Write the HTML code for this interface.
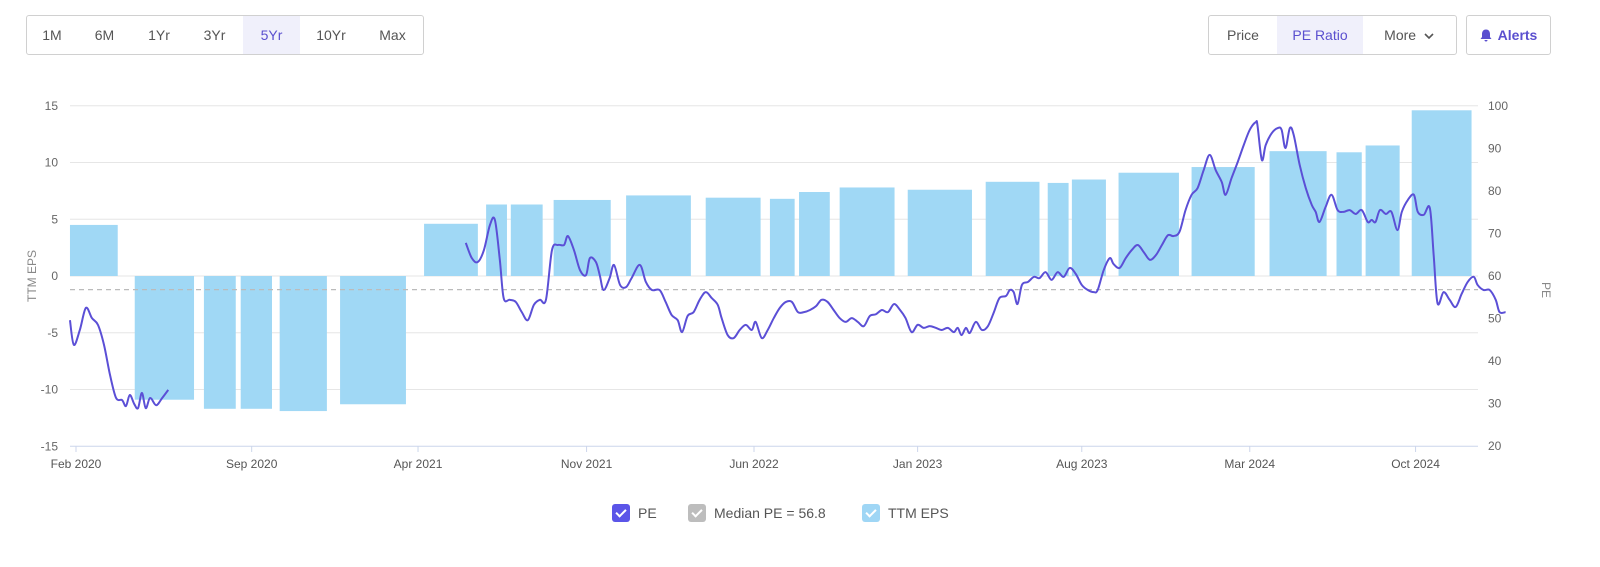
<!DOCTYPE html>
<html><head><meta charset="utf-8"><style>
html,body{margin:0;padding:0;background:#fff;width:1600px;height:567px;overflow:hidden;font-family:"Liberation Sans",sans-serif}
.grp{position:absolute;top:15px;height:40px;border:1px solid #d0d0d0;border-radius:3px;box-sizing:border-box;display:flex}
.btn{height:38px;line-height:38px;font-size:14px;color:#555;text-align:center;cursor:pointer}
.btn.on{background:#f0f0fb;color:#5a4fcf}
.lg{position:absolute;top:504px;font-size:14px;color:#555;display:flex;align-items:center}
.cb{width:18px;height:18px;border-radius:3px;margin-right:8px;position:relative}
.cb:after{content:"";position:absolute;left:6px;top:3px;width:4px;height:8px;border:solid #fff;border-width:0 2px 2px 0;transform:rotate(45deg)}
</style></head><body>
<div class="grp" style="left:26px;width:398px">
<div class="btn" style="width:50px">1M</div>
<div class="btn" style="width:55px">6M</div>
<div class="btn" style="width:54px">1Yr</div>
<div class="btn" style="width:57px">3Yr</div>
<div class="btn on" style="width:57px">5Yr</div>
<div class="btn" style="width:62px">10Yr</div>
<div class="btn" style="width:61px">Max</div>
</div>
<div class="grp" style="left:1208px;width:249px">
<div class="btn" style="width:68px">Price</div>
<div class="btn on" style="width:86px">PE Ratio</div>
<div class="btn" style="width:92px">More &nbsp;<svg width="10" height="8" viewBox="0 0 10 8"><path d="M1 2 L5 6 L9 2" fill="none" stroke="#555" stroke-width="1.6"/></svg></div>
</div>
<div class="grp" style="left:1466px;width:85px;justify-content:center;align-items:center;color:#5a4fcf;font-size:14px;font-weight:bold">
<svg width="12" height="13" viewBox="0 0 12 13" style="margin-right:6px"><path d="M6 0.5 C3 0.5 2 3 2 5 L2 8 L0.5 10 L11.5 10 L10 8 L10 5 C10 3 9 0.5 6 0.5Z M4.5 11 A1.5 1.5 0 0 0 7.5 11Z" fill="#5a4fcf"/></svg>Alerts</div>

<svg id="chart" width="1600" height="567" style="position:absolute;left:0;top:0;pointer-events:none" xmlns="http://www.w3.org/2000/svg"></svg>

<div class="lg" style="left:612px"><div class="cb" style="background:#5b55e8"></div>PE</div>
<div class="lg" style="left:688px"><div class="cb" style="background:#bdbdbd"></div>Median PE = 56.8</div>
<div class="lg" style="left:862px"><div class="cb" style="background:#9fd6f5"></div>TTM EPS</div>

<script>
// time unit: weeks since Feb 2020
const tickWeeks=[0,32.0,62.3,93.0,123.5,153.3,183.2,213.8,244.0];
const tickLabels=["Feb 2020","Sep 2020","Apr 2021","Nov 2021","Jun 2022","Jan 2023","Aug 2023","Mar 2024","Oct 2024"];
const epsTicks=[15,10,5,0,-5,-10,-15];
const peTicks=[100,90,80,70,60,50,40,30,20];
const barStart=[-1.1,10.7,23.3,30.0,37.1,48.1,63.4,74.7,79.2,87.0,100.2,114.7,126.4,131.7,139.1,151.5,165.7,177.0,181.4,189.9,203.2,217.4,229.6,234.9,243.3];
const barEnd=[7.6,21.5,29.1,35.7,45.7,60.1,73.2,78.5,85.0,97.4,112.0,124.7,130.9,137.3,149.1,163.2,175.5,180.8,187.6,200.9,214.7,227.8,234.2,241.1,254.2];
const epsValues=[4.5,-10.9,-11.7,-11.7,-11.9,-11.3,4.6,6.3,6.3,6.7,7.1,6.9,6.8,7.4,7.8,7.6,8.3,8.2,8.5,9.1,9.6,11.0,10.9,11.5,14.6];
const medianPE=56.8;
const pe1Weeks=[-1.1,-0.4,0.7,1.8,2.9,4.0,5.1,6.2,7.3,8.4,9.1,9.8,10.6,11.3,12.0,12.7,13.5,14.6,15.7,16.8];
const pe1Values=[49.6,43.8,47.3,52.5,50.1,48.5,43.8,36.7,31.3,30.8,29.4,32,29.9,28.9,32.5,28.9,31.3,29.6,31.3,33.2];
const pe2Weeks=[71.0,72.1,73.2,74.3,75.4,76.3,77.2,77.9,79.0,80.1,81.2,82.3,83.4,84.5,85.6,86.7,87.8,88.9,89.6,90.7,91.8,92.9,93.6,94.7,95.4,96.1,97.2,98.0,99.1,100.2,101.2,102.7,103.8,104.9,106.3,107.4,108.5,109.6,110.4,111.4,112.5,113.6,114.7,115.8,116.9,117.6,118.7,119.8,120.9,122.0,123.1,123.8,124.9,126.0,127.1,128.2,129.3,130.4,131.5,132.6,133.7,134.8,135.8,136.9,138.0,139.1,140.2,141.3,142.4,143.5,144.6,145.7,146.8,147.9,149.0,150.1,151.1,152.2,153.3,154.4,155.5,156.6,157.7,158.8,159.9,160.6,161.3,162.1,162.8,163.9,165.0,166.1,167.2,168.2,169.4,170.1,170.8,171.5,172.3,173.4,174.5,175.5,176.6,177.7,178.8,179.9,181.0,182.1,183.2,184.3,185.4,186.1,187.2,188.3,189.0,190.1,191.2,192.3,193.4,194.5,195.6,196.7,197.8,198.9,199.9,201.0,202.1,203.2,204.3,205.4,206.5,207.6,208.7,209.4,210.5,211.6,212.7,213.8,214.9,215.2,216.0,216.7,217.8,218.9,219.6,220.3,221.1,221.8,222.9,224.0,225.1,225.8,226.5,227.6,228.7,229.8,230.9,232.0,233.1,234.2,235.3,236.0,236.7,237.5,238.6,239.6,240.7,241.5,242.6,243.7,244.4,245.5,246.6,247.3,248.0,249.1,250.2,251.3,252.4,253.5,254.6,255.3,256.4,257.5,258.6,259.3,260.4];
const pe2Values=[67.8,64.2,63.3,66.1,72,73.2,63.8,54.8,54.4,53.9,51.5,49.6,53.2,54.4,54.4,66.1,67.3,67.3,69.4,66.1,61.4,60.2,64.2,63.3,60.2,56.7,59.5,62.6,57.9,57.4,59.5,62.6,58.6,56.7,56.7,53.9,50.8,49.6,46.8,50.6,51.5,54.4,56.2,54.8,53.2,50.1,46.1,45.4,47.3,48.5,47.3,49.2,45.4,47.3,50.1,52.5,53.9,53.9,51.5,51.5,52,52.9,54.4,53.9,52,50.1,49.2,50.1,49.2,48.2,50.6,51,52,51.5,53.4,52,50.1,46.8,48.5,47.8,48.2,47.8,47.3,47.8,46.8,47.8,46.1,47.8,46.6,49.2,47.3,48.2,51.5,54.8,55.3,56.7,56.2,53.4,57.9,58.6,59.8,59.5,60.9,59.1,60.9,59.8,61.9,60.5,57.9,56.7,56.2,56.7,61.4,64.2,62.8,61.9,64.2,66.1,67.3,65.6,63.8,64.9,67.3,69.6,69.4,70.4,75.5,79.1,80.7,84.9,88.5,84.9,82.1,79.1,83.1,86.8,90.8,94.4,96.2,95.5,87.3,90.8,93.6,94.8,94.4,90.1,94.8,93.2,86.1,80.7,76.7,75.1,72.7,76.2,79.1,75.5,75.1,75.5,74.6,75.5,72.7,73.2,72.7,75.5,74.6,75.1,70.8,75.1,77.9,79.1,75.1,74.4,76,64.9,53.6,56.2,54.4,52.7,55.8,58.6,59.8,57.9,56.7,56.7,54.4,51.5,51.5];

const svg=document.getElementById('chart');
const NS='http://www.w3.org/2000/svg';
const X0=70,X1=1478;
function xScale(w){return 76+w*5.49;}
function yEps(v){return 276-v*11.35;}
function yPe(v){return 276-(v-60)*4.25;}
function mk(tag,attrs,name){const e=document.createElementNS(NS,tag);for(const k in attrs)e.setAttribute(k,attrs[k]);


svg.appendChild(e);return e;}
epsTicks.forEach((t,i)=>{const y=yEps(t);
mk('line',{x1:X0,x2:X1,y1:y,y2:y,stroke:i===epsTicks.length-1?'#ccd6eb':'#e6e6e6','stroke-width':1},'gridline');
const tx=mk('text',{x:58,y:y+4,'text-anchor':'end','font-size':12,fill:'#666','font-family':'Liberation Sans, sans-serif'},'eps-tick-label');tx.textContent=t;});
peTicks.forEach(t=>{const tx=mk('text',{x:1488,y:yPe(t)+4,'font-size':12,fill:'#666','font-family':'Liberation Sans, sans-serif'},'pe-tick-label');tx.textContent=t;});
tickWeeks.forEach((w,i)=>{const x=xScale(w);
mk('line',{x1:x,x2:x,y1:446,y2:452,stroke:'#ccd6eb'},'x-tick');
const tx=mk('text',{x:x,y:468,'text-anchor':'middle','font-size':12,fill:'#555','font-family':'Liberation Sans, sans-serif'},'x-tick-label');tx.textContent=tickLabels[i];});
let t1=mk('text',{x:36,y:276,'text-anchor':'middle','font-size':12,fill:'#888',transform:'rotate(-90 36 276)','font-family':'Liberation Sans, sans-serif'},'y-axis-title-eps');t1.textContent='TTM EPS';
let t2=mk('text',{x:1542,y:290,'text-anchor':'middle','font-size':12,fill:'#888',transform:'rotate(90 1542 290)','font-family':'Liberation Sans, sans-serif'},'y-axis-title-pe');t2.textContent='PE';
epsValues.forEach((v,i)=>{const xa=xScale(barStart[i]),xb=xScale(barEnd[i]);const y0=yEps(0),y1=yEps(v);
mk('rect',{x:xa,y:Math.min(y0,y1),width:xb-xa,height:Math.abs(y1-y0),fill:'#a0d8f5'},'eps-bar');});
const my=yPe(medianPE);
mk('line',{x1:X0,x2:X1,y1:my,y2:my,stroke:'#bbb','stroke-width':1.3,'stroke-dasharray':'5,4'},'median-pe-line');
function path(ws,vs){const p=ws.map((w,i)=>[xScale(w),yPe(vs[i])]);let d='M'+p[0][0]+','+p[0][1];
for(let i=0;i<p.length-1;i++){const a=p[Math.max(0,i-1)],b=p[i],c=p[i+1],e=p[Math.min(p.length-1,i+2)];
d+=' C'+(b[0]+(c[0]-a[0])/6)+','+(b[1]+(c[1]-a[1])/6)+' '+(c[0]-(e[0]-b[0])/6)+','+(c[1]-(e[1]-b[1])/6)+' '+c[0]+','+c[1];}return d;}
mk('path',{d:path(pe1Weeks,pe1Values),fill:'none',stroke:'#5b4fd6','stroke-width':2,'stroke-linejoin':'round'},'pe-line-2020');
mk('path',{d:path(pe2Weeks,pe2Values),fill:'none',stroke:'#5b4fd6','stroke-width':2,'stroke-linejoin':'round'},'pe-line');
</script>
</body></html>
